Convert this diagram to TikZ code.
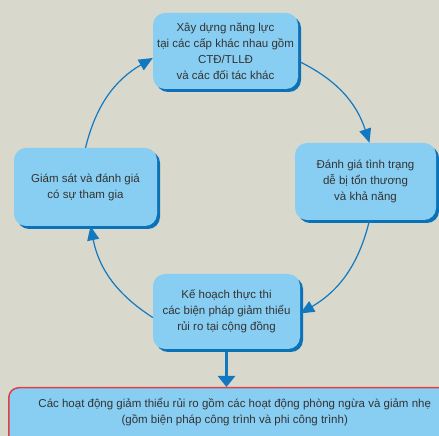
\documentclass[tikz,border=0pt]{standalone}
\usepackage{fontspec}
\setmainfont{Liberation Sans}
\usetikzlibrary{shadows,arrows.meta}
\definecolor{bggray}{RGB}{216,216,204}
\definecolor{boxblue}{RGB}{136,206,242}
\definecolor{shadeblue}{RGB}{12,114,184}
\definecolor{arrowblue}{RGB}{18,121,192}
\definecolor{textgray}{RGB}{51,51,51}
\definecolor{edgered}{RGB}{222,64,72}

\begin{document}
\begin{tikzpicture}[
x=1pt,y=1pt,
stepnode/.style={
  fill=boxblue,
  rounded corners=12pt,
  general shadow={fill=shadeblue,shadow xshift=3pt,shadow yshift=-3pt},
  align=center,
  text=textgray,
  font=\fontsize{11.5}{16}\selectfont
  },
flow/.style={draw=arrowblue,line width=1.2pt,-{Triangle[length=14pt,width=12pt]}}
]
\fill[bggray] (0,0) rectangle (439,436);
\useasboundingbox (0,0) rectangle (439,436);

\node[stepnode,minimum width=145pt,minimum height=76pt] (build) at (225.5,385)
  {Xây dựng năng lực\\tại các cấp khác nhau gồm\\CTĐ/TLLĐ\\và các đối tác khác};
\node[stepnode,minimum width=141pt,minimum height=77pt] (assess) at (365.5,254.5)
  {Đánh giá tình trạng\\dễ bị tổn thương\\và khả năng};
\node[stepnode,minimum width=143pt,minimum height=78pt] (monitor) at (85.5,249)
  {Giám sát và đánh giá\\có sự tham gia};
\node[stepnode,minimum width=147pt,minimum height=75pt] (plan) at (226.5,124.5)
  {Kế hoạch thực thi\\các biện pháp giảm thiểu\\rủi ro tại cộng đồng};
\node[fill=boxblue,draw=edgered,line width=1.5pt,rounded corners=10pt,
  anchor=north west,minimum width=452pt,text depth=20pt,inner sep=10pt,
  align=center,text=textgray,font=\fontsize{11.5}{16}\selectfont] (activity) at (8,49)
  {Các hoạt động giảm thiểu rủi ro gồm các hoạt động phòng ngừa và giảm nhẹ\\(gồm biện pháp công trình và phi công trình)};

\draw[flow] (monitor.north) to[bend left=23] ([yshift=-7pt]build.west);
\draw[flow] ([yshift=-10pt]build.east) to[bend left=23] ([xshift=4pt]assess.north);
\draw[flow] ([xshift=4pt]assess.south) to[bend left=23] ([yshift=-2pt]plan.east);
\draw[flow] ([yshift=-6pt]plan.west) to[bend left=23] ([xshift=5pt]monitor.south);
\draw[draw=arrowblue,line width=3.5pt,-{Triangle[length=11pt,width=17pt]}]
  ([yshift=-3pt]plan.south) -- (plan.south |- activity.north);
\end{tikzpicture}
\end{document}
